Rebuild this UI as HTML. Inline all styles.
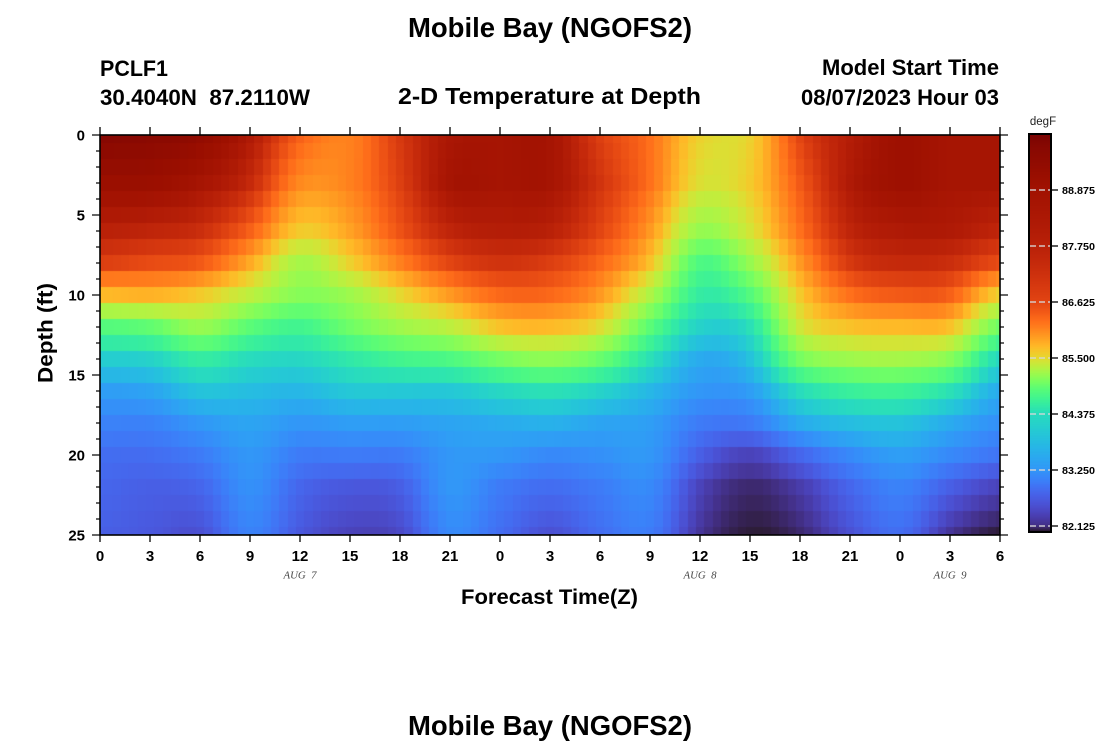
<!DOCTYPE html>
<html><head><meta charset="utf-8">
<style>
html,body{margin:0;padding:0;background:#fff;}
#wrap{position:relative;width:1100px;height:750px;overflow:hidden;background:#fff;}
canvas{position:absolute;}
#hm{left:100px;top:135px;width:900px;height:400px;}
#cb{left:1029px;top:134px;width:22px;height:398px;}
svg{position:absolute;left:0;top:0;}
text{font-family:"Liberation Sans",Arial,sans-serif;}
</style></head><body>
<div id="wrap">
<canvas id="hm" width="900" height="400"></canvas>
<canvas id="cb" width="22" height="398"></canvas>
<svg width="1100" height="750" viewBox="0 0 1100 750" xmlns="http://www.w3.org/2000/svg">
<g font-weight="bold" fill="#000">
<text x="550" y="37" font-size="27.5" text-anchor="middle" textLength="284" lengthAdjust="spacingAndGlyphs">Mobile Bay (NGOFS2)</text>
<text x="100" y="76" font-size="22" textLength="68" lengthAdjust="spacingAndGlyphs">PCLF1</text>
<text x="100" y="105" font-size="22" textLength="210" lengthAdjust="spacingAndGlyphs" xml:space="preserve">30.4040N  87.2110W</text>
<text x="398" y="104" font-size="23" textLength="303" lengthAdjust="spacingAndGlyphs">2-D Temperature at Depth</text>
<text x="999" y="75" font-size="22" text-anchor="end" textLength="177" lengthAdjust="spacingAndGlyphs">Model Start Time</text>
<text x="999" y="105" font-size="22" text-anchor="end" textLength="198" lengthAdjust="spacingAndGlyphs">08/07/2023 Hour 03</text>
<text transform="translate(52.5,333) rotate(-90)" font-size="21" text-anchor="middle" textLength="100" lengthAdjust="spacingAndGlyphs">Depth (ft)</text>
<text x="549.5" y="604" font-size="21" text-anchor="middle" textLength="177" lengthAdjust="spacingAndGlyphs">Forecast Time(Z)</text>
<text x="550" y="735" font-size="27.5" text-anchor="middle" textLength="284" lengthAdjust="spacingAndGlyphs">Mobile Bay (NGOFS2)</text>
</g>
<g font-weight="bold" font-size="15" text-anchor="end" fill="#000">
<text x="85" y="140.3">0</text>
<text x="85" y="220.3">5</text>
<text x="85" y="300.3">10</text>
<text x="85" y="380.3">15</text>
<text x="85" y="460.3">20</text>
<text x="85" y="540.3">25</text>
</g>
<g font-weight="bold" font-size="15" text-anchor="middle" fill="#000">
<text x="100" y="561">0</text>
<text x="150" y="561">3</text>
<text x="200" y="561">6</text>
<text x="250" y="561">9</text>
<text x="300" y="561">12</text>
<text x="350" y="561">15</text>
<text x="400" y="561">18</text>
<text x="450" y="561">21</text>
<text x="500" y="561">0</text>
<text x="550" y="561">3</text>
<text x="600" y="561">6</text>
<text x="650" y="561">9</text>
<text x="700" y="561">12</text>
<text x="750" y="561">15</text>
<text x="800" y="561">18</text>
<text x="850" y="561">21</text>
<text x="900" y="561">0</text>
<text x="950" y="561">3</text>
<text x="1000" y="561">6</text>
</g>
<g font-size="10" font-style="italic" text-anchor="middle" fill="#444">
<text x="300" y="578.3" style="font-family:'Liberation Serif',serif" textLength="33" lengthAdjust="spacingAndGlyphs" xml:space="preserve">AUG  7</text>
<text x="700" y="578.3" style="font-family:'Liberation Serif',serif" textLength="33" lengthAdjust="spacingAndGlyphs" xml:space="preserve">AUG  8</text>
<text x="950" y="578.3" style="font-family:'Liberation Serif',serif" textLength="33" lengthAdjust="spacingAndGlyphs" xml:space="preserve">AUG  9</text>
</g>
<g stroke="#333" stroke-width="1.6" fill="none">
<path d="M100 127v8M150 127v8M200 127v8M250 127v8M300 127v8M350 127v8M400 127v8M450 127v8M500 127v8M550 127v8M600 127v8M650 127v8M700 127v8M750 127v8M800 127v8M850 127v8M900 127v8M950 127v8M1000 127v8"/>
<path d="M100 535v7M150 535v7M200 535v7M250 535v7M300 535v7M350 535v7M400 535v7M450 535v7M500 535v7M550 535v7M600 535v7M650 535v7M700 535v7M750 535v7M800 535v7M850 535v7M900 535v7M950 535v7M1000 535v7"/>
<path d="M92 135h8M92 215h8M92 295h8M92 375h8M92 455h8M92 535h8"/>
<path d="M96 151h4M96 167h4M96 183h4M96 199h4M96 231h4M96 247h4M96 263h4M96 279h4M96 311h4M96 327h4M96 343h4M96 359h4M96 391h4M96 407h4M96 423h4M96 439h4M96 471h4M96 487h4M96 503h4M96 519h4"/>
<path d="M1000 135h8M1000 215h8M1000 295h8M1000 375h8M1000 455h8M1000 535h8"/>
<path d="M1000 151h4M1000 167h4M1000 183h4M1000 199h4M1000 231h4M1000 247h4M1000 263h4M1000 279h4M1000 311h4M1000 327h4M1000 343h4M1000 359h4M1000 391h4M1000 407h4M1000 423h4M1000 439h4M1000 471h4M1000 487h4M1000 503h4M1000 519h4"/>
</g>
<rect x="100" y="135" width="900" height="400" fill="none" stroke="#000" stroke-width="1.6"/>
<text x="1043" y="125" font-size="11.5" text-anchor="middle" fill="#222">degF</text>
<g stroke="#d8d8d8" stroke-width="1.5" stroke-dasharray="6,3" opacity="0.9">
<path d="M1030 190h20M1030 246h20M1030 302h20M1030 358h20M1030 414h20M1030 470h20M1030 526h20"/>
</g>
<g stroke="#222" stroke-width="1.5">
<path d="M1051 190h7M1051 246h7M1051 302h7M1051 358h7M1051 414h7M1051 470h7M1051 526h7"/>
</g>
<rect x="1029" y="134" width="22" height="398" fill="none" stroke="#000" stroke-width="2"/>
<g font-weight="bold" font-size="10.5" fill="#000">
<text x="1062" y="193.8" textLength="33" lengthAdjust="spacingAndGlyphs">88.875</text>
<text x="1062" y="249.8" textLength="33" lengthAdjust="spacingAndGlyphs">87.750</text>
<text x="1062" y="305.8" textLength="33" lengthAdjust="spacingAndGlyphs">86.625</text>
<text x="1062" y="361.8" textLength="33" lengthAdjust="spacingAndGlyphs">85.500</text>
<text x="1062" y="417.8" textLength="33" lengthAdjust="spacingAndGlyphs">84.375</text>
<text x="1062" y="473.8" textLength="33" lengthAdjust="spacingAndGlyphs">83.250</text>
<text x="1062" y="529.8" textLength="33" lengthAdjust="spacingAndGlyphs">82.125</text>
</g>
</svg>
</div>
<script>
(function(){
function clamp(v){return v<0?0:(v>1?1:v);}
function poly(x){
  var x2=x*x,x3=x2*x,x4=x3*x,x5=x4*x;
  var r=0.13572138+4.61539260*x-42.66032258*x2+132.13108234*x3-152.94239396*x4+59.28637943*x5;
  var g=0.09140261+2.19418839*x+4.84296658*x2-14.18503333*x3+4.27729857*x4+2.82956604*x5;
  var b=0.10667330+12.64194608*x-60.58204836*x2+110.36276771*x3-89.90310912*x4+27.34824973*x5;
  return [clamp(r)*255,clamp(g)*255,clamp(b)*255];
}
function turboRGB(x){
  x=clamp(x);
  var q=(x-0.78)/0.2; var bump=1-q*q; if(bump<0)bump=0;
  x=clamp(x+0.045*bump);
  var c=poly(x);
  if(x>0.95){
    var c9=poly(0.95), t=(x-0.95)/0.05;
    c=[c9[0]+(122-c9[0])*t,c9[1]+(4-c9[1])*t,c9[2]+(3-c9[2])*t];
  }
  return 'rgb('+Math.round(c[0])+','+Math.round(c[1])+','+Math.round(c[2])+')';
}
var D=[0,3,6,8,10,12,14,16,18,20,22,25];
var G=[
[.98,.93,.86,.80,.64,.41,.28,.20,.16,.13,.12,.11],
[.97,.93,.85,.78,.65,.43,.29,.21,.16,.13,.11,.10],
[.95,.90,.83,.76,.62,.50,.35,.26,.19,.15,.12,.09],
[.88,.84,.75,.66,.55,.42,.31,.25,.21,.19,.18,.16],
[.75,.70,.62,.52,.48,.38,.30,.24,.19,.15,.12,.10],
[.71,.71,.67,.61,.51,.45,.34,.27,.20,.15,.10,.07],
[.81,.80,.77,.71,.60,.51,.38,.27,.20,.15,.11,.08],
[.89,.90,.85,.79,.68,.55,.40,.27,.21,.19,.19,.17],
[.90,.90,.87,.82,.74,.63,.46,.30,.22,.19,.15,.13],
[.90,.90,.86,.80,.74,.64,.49,.32,.23,.17,.13,.09],
[.80,.82,.79,.74,.68,.59,.44,.29,.21,.18,.15,.13],
[.73,.73,.68,.63,.53,.42,.32,.24,.20,.19,.17,.15],
[.61,.59,.50,.40,.35,.29,.22,.19,.15,.11,.07,.05],
[.61,.62,.58,.50,.41,.32,.26,.20,.15,.07,.03,.01],
[.79,.76,.73,.68,.62,.57,.46,.31,.22,.12,.06,.03],
[.87,.88,.85,.81,.73,.63,.51,.36,.25,.17,.12,.09],
[.92,.92,.88,.84,.76,.64,.52,.37,.26,.20,.16,.13],
[.90,.90,.88,.83,.75,.63,.48,.32,.22,.17,.11,.05],
[.90,.90,.85,.78,.61,.45,.30,.22,.18,.14,.07,.01]
];
function colAt(i,d){
  if(i<0)i=0; if(i>18)i=18;
  var a=G[i];
  for(var k=0;k<D.length-1;k++){
    if(d<=D[k+1]){var t=(d-D[k])/(D[k+1]-D[k]);return a[k]+(a[k+1]-a[k])*t;}
  }
  return a[a.length-1];
}
function field(h,d){
  var s=h/3,i=Math.floor(s);if(i>=18)i=17;var t=s-i;
  var p0=colAt(i-1,d),p1=colAt(i,d),p2=colAt(i+1,d),p3=colAt(i+2,d);
  var t2=t*t,t3=t2*t;
  var v=0.5*((2*p1)+(-p0+p2)*t+(2*p0-5*p1+4*p2-p3)*t2+(-p0+3*p1-3*p2+p3)*t3);
  return clamp(v);
}
var c=document.getElementById('hm').getContext('2d');
var sx=900/54;
for(var k=0;k<=108;k++){
  var h=k*0.5;
  var x0=Math.round(Math.max(0,(h-0.25)*sx)),x1=Math.round(Math.min(900,(h+0.25)*sx));
  for(var j=0;j<=25;j++){
    var y0=Math.max(0,(j-0.5)*16),y1=Math.min(400,(j+0.5)*16);
    c.fillStyle=turboRGB(field(h,j));
    c.fillRect(x0,y0,x1-x0,y1-y0);
  }
}
var fm=[[0,0],[0.016,0.04],[0.1,0.12],[0.156,0.19],[0.297,0.31],[0.36,0.42],[0.4375,0.6],[0.52,0.72],[0.578,0.79],[0.719,0.86],[0.859,0.91],[1,1]];
function fmap(f){
  for(var k=0;k<fm.length-1;k++){
    if(f<=fm[k+1][0]){var t=(f-fm[k][0])/(fm[k+1][0]-fm[k][0]);return fm[k][1]+(fm[k+1][1]-fm[k][1])*t;}
  }
  return 1;
}
var cb=document.getElementById('cb').getContext('2d');
for(var y=0;y<398;y++){
  var f=1-(y+0.5)/398;
  cb.fillStyle=turboRGB(fmap(f));
  cb.fillRect(0,y,22,1);
}
})();
</script>
</body></html>
